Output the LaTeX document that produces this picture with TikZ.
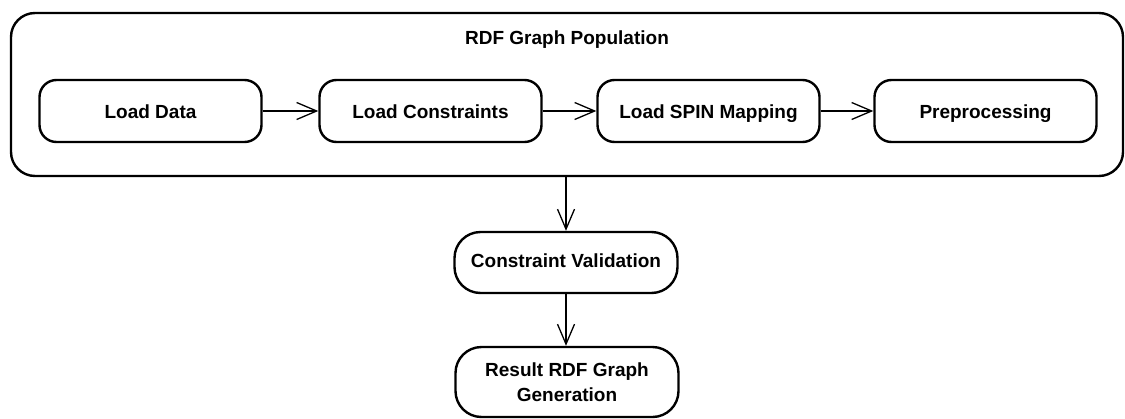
\documentclass[tikz,border=0pt]{standalone}
\usepackage{fontspec}
\setmainfont{Liberation Sans}
\usetikzlibrary{arrows.meta}
\begin{document}
\begin{tikzpicture}[x=1pt,y=-1pt,
  lbl/.style={font=\fontsize{19}{25}\selectfont\bfseries, align=center},
  stepbox/.style={lbl, draw, line width=2.4pt, rounded corners=17pt,
    minimum width=222pt, minimum height=62pt, inner sep=0pt,
    text height=14pt, text depth=0pt},
  pillbox/.style={lbl, draw, line width=2.4pt, rounded corners=26pt,
    minimum width=223pt, inner sep=0pt},
  arr/.style={line width=1.3pt, -{Straight Barb[length=20pt,width=17pt,line width=1.3pt]}}
]
\useasboundingbox (0,0) rectangle (1125,418);
% outer container
\node[draw, line width=2.4pt, rounded corners=24pt, minimum width=1112pt,
  minimum height=163pt, inner sep=0pt] (pop) at (567,94.5) {};
\node[lbl] (title) at (567,40) {RDF Graph Population};
% inner steps
\node[stepbox] (ld) at (150.5,111) {Load Data};
\node[stepbox] (lc) at (430.5,111) {Load Constraints};
\node[stepbox] (ls) at (708.5,111) {Load SPIN Mapping};
\node[stepbox] (pp) at (985.5,111) {Preprocessing};
% lower steps
\node[pillbox, minimum height=61pt, text height=14pt, text depth=5pt] (cv) at (566,262.5) {Constraint Validation};
\node[pillbox, minimum height=70pt] (rg) at (567,382) {Result RDF Graph\\Generation};
% connectors
\draw[arr] (ld) -- (lc);
\draw[arr] (lc) -- (ls);
\draw[arr] (ls) -- (pp);
\draw[arr] (pop.south -| cv.north) -- (cv.north);
\draw[arr] (cv.south) -- (cv.south |- rg.north);
\end{tikzpicture}
\end{document}
